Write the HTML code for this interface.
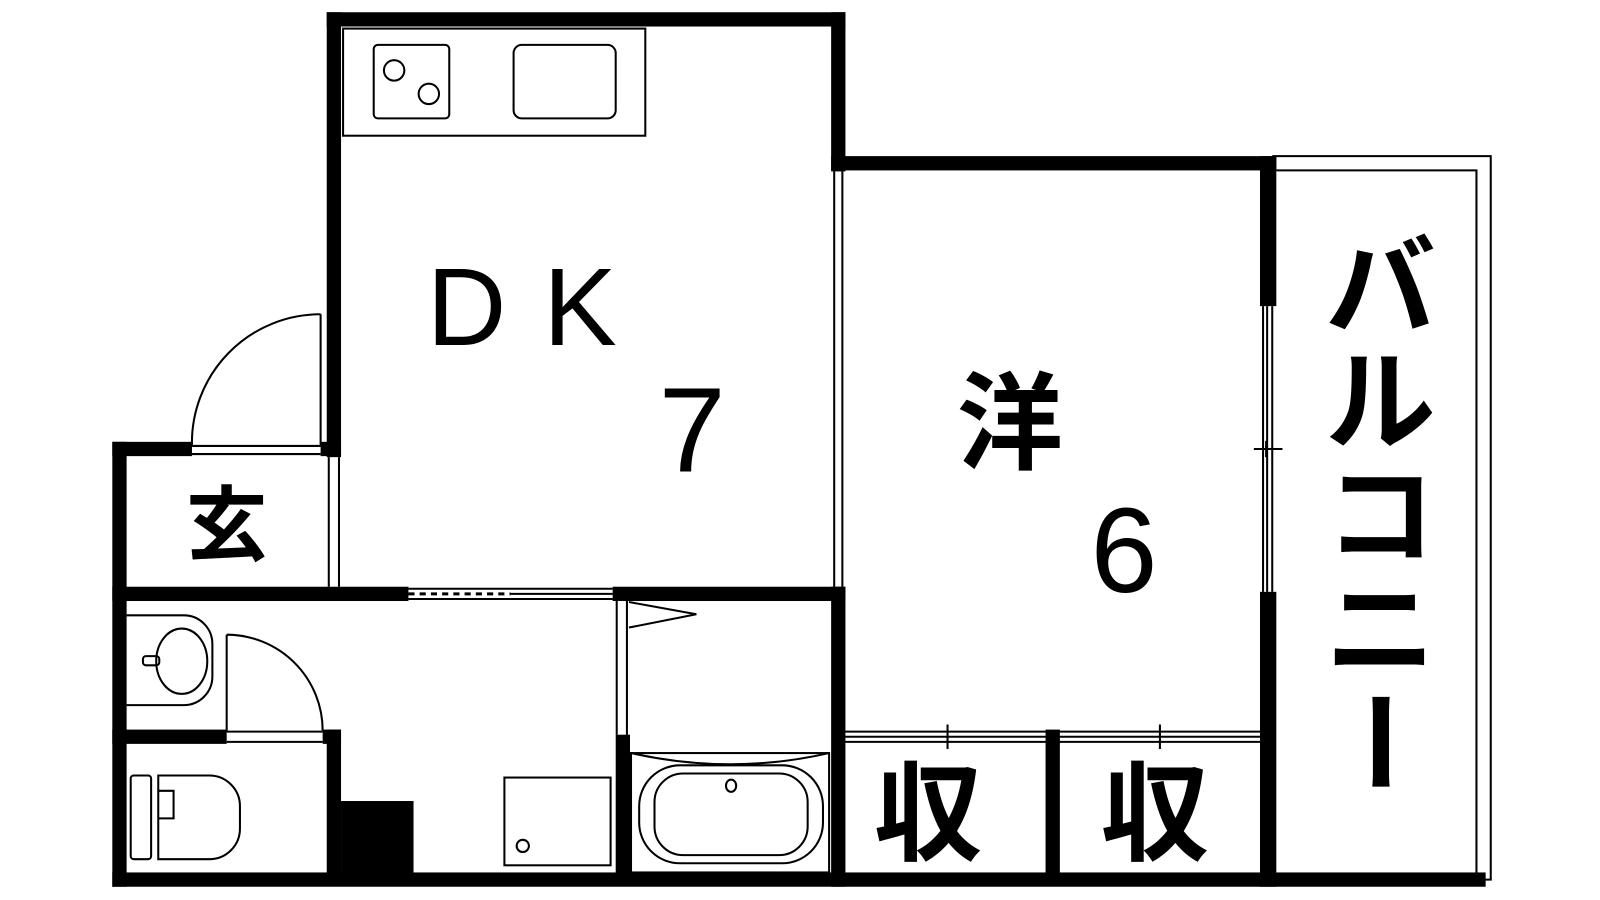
<!DOCTYPE html>
<html><head><meta charset="utf-8"><style>
html,body{margin:0;padding:0;background:#fff;width:1600px;height:900px;overflow:hidden}
text{font-family:"Liberation Sans","Noto Sans CJK JP",sans-serif;fill:#000}
</style></head><body>
<svg width="1600" height="900" viewBox="0 0 1567 882" preserveAspectRatio="none" xmlns="http://www.w3.org/2000/svg">
<g fill="#000">
<rect x="320" y="12" width="508" height="14"/>
<rect x="320" y="12" width="14" height="436"/>
<rect x="814" y="12" width="14" height="156"/>
<rect x="814" y="153" width="436" height="14"/>
<rect x="1234" y="153" width="16" height="147"/>
<rect x="1234" y="580" width="16" height="289"/>
<rect x="110" y="855" width="1345" height="14"/>
<rect x="110" y="433" width="14" height="436"/>
<rect x="110" y="433" width="78" height="14"/>
<rect x="314" y="433" width="20" height="14"/>
<rect x="110" y="575" width="290" height="14"/>
<rect x="600" y="575" width="228" height="14"/>
<rect x="814" y="575" width="14" height="294"/>
<rect x="603" y="720" width="14" height="140"/>
<rect x="110" y="715" width="112" height="14"/>
<rect x="316" y="715" width="18" height="14"/>
<rect x="320" y="715" width="14" height="145"/>
<rect x="334" y="785" width="71" height="75"/>
<rect x="1024" y="715" width="14" height="150"/>
</g>
<g fill="none" stroke="#000" stroke-width="2">
<line x1="817" y1="168" x2="817" y2="575"/><line x1="825" y1="168" x2="825" y2="575"/>
<line x1="322" y1="448" x2="322" y2="575"/><line x1="332" y1="448" x2="332" y2="575"/>
<line x1="1237" y1="300" x2="1237" y2="580"/><line x1="1241" y1="300" x2="1241" y2="580"/><line x1="1246" y1="300" x2="1246" y2="580"/>
<line x1="1228" y1="440" x2="1256" y2="440"/><line x1="1240" y1="432" x2="1240" y2="448"/>
<polyline points="1246,153 1460,153 1460,862 1450,862"/>
<polyline points="1250,167 1446,167 1446,857"/>
<rect x="336" y="28" width="296" height="105"/>
<rect x="366" y="44" width="74" height="72" rx="4"/>
<rect x="503" y="44" width="100" height="72" rx="8"/>
<circle cx="386" cy="69" r="10"/><circle cx="420" cy="92" r="10"/>
<line x1="188" y1="437" x2="314" y2="437"/><line x1="188" y1="445" x2="314" y2="445"/>
<line x1="314" y1="308" x2="314" y2="437"/>
<path d="M188,437 A126,126 0 0 1 314,308"/>
<line x1="400" y1="577" x2="600" y2="577"/><line x1="400" y1="587" x2="600" y2="587"/>
<line x1="400" y1="582" x2="500" y2="582" stroke-dasharray="6,5" stroke-width="3"/>
<line x1="500" y1="582" x2="600" y2="582"/>
<line x1="604" y1="589" x2="604" y2="720"/><line x1="614" y1="589" x2="614" y2="720"/>
<polyline points="616,590 682,602 616,615"/>
<line x1="222" y1="717" x2="316" y2="717"/><line x1="222" y1="727" x2="316" y2="727"/>
<line x1="222" y1="622" x2="222" y2="717"/>
<path d="M222,622 A94,94 0 0 1 316,716"/>
<path d="M124,603 H180 A28,28 0 0 1 208,631 V663 A28,28 0 0 1 180,691 H124"/>
<ellipse cx="178" cy="648" rx="25" ry="32"/>
<rect x="140" y="643" width="16" height="9" rx="3"/>
<rect x="128" y="760" width="20" height="82" rx="3"/>
<path d="M155,760 H205 A30,30 0 0 1 235,790 V812 A30,30 0 0 1 205,842 H155 Z"/>
<polyline points="155,775 170,775 170,802 155,802"/>
<rect x="494" y="762" width="104" height="86"/>
<circle cx="512" cy="829" r="6"/>
<rect x="618" y="738" width="194" height="117"/>
<path d="M618,738 Q716,760 812,738"/>
<rect x="626" y="750" width="180" height="96" rx="40"/>
<rect x="641" y="758" width="150" height="80" rx="28"/>
<ellipse cx="716" cy="770" rx="5" ry="6"/>
<line x1="828" y1="717" x2="1234" y2="717"/><line x1="828" y1="722" x2="1234" y2="722"/><line x1="828" y1="727" x2="1234" y2="727"/>
<line x1="928" y1="710" x2="928" y2="734"/><line x1="1136" y1="710" x2="1136" y2="734"/>
</g>
<text x="418" y="338" font-size="108">D</text>
<text x="532" y="338" font-size="108">K</text>
<text x="645" y="462" font-size="118">7</text>
<text x="937" y="452" font-size="104" font-weight="bold" font-family="Noto Sans CJK JP,sans-serif">洋</text>
<text x="1068" y="580" font-size="118">6</text>
<text x="182" y="543" font-size="80" font-weight="bold" font-family="Noto Sans CJK JP,sans-serif">玄</text>
<text x="856" y="835" font-size="106" font-weight="bold" font-family="Noto Sans CJK JP,sans-serif">収</text>
<text x="1078" y="835" font-size="106" font-weight="bold" font-family="Noto Sans CJK JP,sans-serif">収</text>
<g font-size="108" font-weight="bold" font-family="Noto Sans CJK JP,sans-serif">
<text x="1298" y="320">バ</text>
<text x="1298" y="432">ル</text>
<text x="1298" y="544">コ</text>
<text x="1298" y="656">ニ</text>
<text x="1298" y="768" transform="rotate(90 1352 727)">ー</text>
</g>
</svg>
</body></html>
